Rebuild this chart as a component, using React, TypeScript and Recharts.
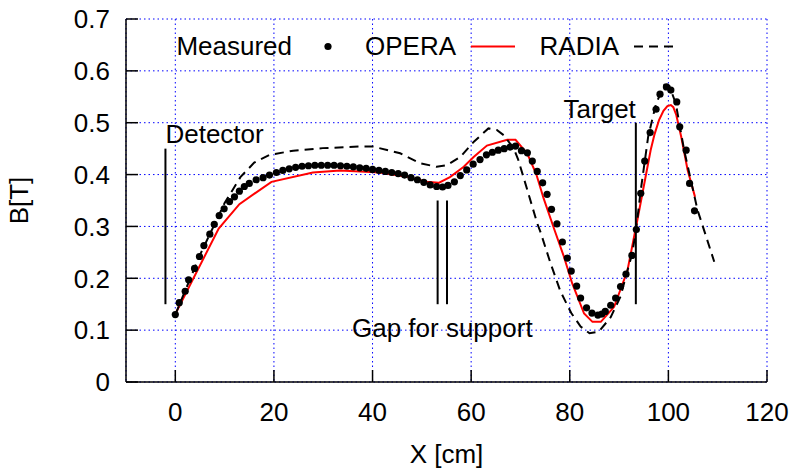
import {
  CartesianGrid,
  ComposedChart,
  Legend,
  Line,
  ReferenceDot,
  ReferenceLine,
  Scatter,
  XAxis,
  YAxis,
} from 'recharts';

const FONT = '"Liberation Sans", Arial, sans-serif';

const xTicks = [0, 20, 40, 60, 80, 100, 120];
const yTicks = [0, 0.1, 0.2, 0.3, 0.4, 0.5, 0.6, 0.7];

// Measured (dots)
const measuredX = [
  0, 0.8, 2.0, 2.7, 3.9, 4.9, 5.8, 7.0, 7.9, 8.9, 9.9, 11.0, 12.0, 13.0, 14.0, 15.0, 16.4, 17.8, 19.1,
  20.5, 21.8, 23.1, 24.4, 25.7, 27.0, 28.3, 29.6, 30.9, 32.2, 33.5, 34.8, 36.1, 37.4, 38.7, 40.0, 41.3,
  42.6, 43.9, 45.2, 46.5, 47.8, 49.1, 50.4, 51.7, 53.0, 54.2, 55.3, 56.6, 57.8, 59.1, 60.4, 61.8, 63.1,
  64.3, 65.5, 66.7, 67.9, 69.0, 70.2, 71.4, 72.4, 73.4, 74.5, 75.4, 76.3, 77.4, 78.5, 79.5, 80.3, 81.4,
  82.2, 83.4, 84.5, 85.7, 86.5, 87.2, 88.3, 89.3, 90.3, 91.4, 92.6, 93.5, 94.4, 95.2, 96.3, 97.5, 98.3,
  99.6, 100.5, 101.7, 102.3, 103.6, 104.3, 105.3,
];
const measuredB = [
  0.13, 0.153, 0.175, 0.197, 0.219, 0.242, 0.263, 0.285, 0.304, 0.321, 0.334, 0.348, 0.357, 0.368, 0.377,
  0.383, 0.39, 0.394, 0.399, 0.404, 0.408, 0.411, 0.414, 0.416, 0.417, 0.418, 0.418, 0.418, 0.418, 0.417,
  0.416, 0.415, 0.413, 0.412, 0.41, 0.408, 0.406, 0.404, 0.402, 0.399, 0.394, 0.39, 0.385, 0.38, 0.377,
  0.376, 0.379, 0.386, 0.398, 0.409, 0.42, 0.429, 0.438, 0.443, 0.447, 0.45, 0.453, 0.455, 0.446, 0.442,
  0.426, 0.406, 0.384, 0.362, 0.333, 0.305, 0.27, 0.239, 0.214, 0.185, 0.162, 0.143, 0.133, 0.129, 0.131,
  0.136, 0.148, 0.162, 0.184, 0.208, 0.244, 0.294, 0.364, 0.426, 0.481, 0.526, 0.555, 0.569, 0.563, 0.54,
  0.492, 0.447, 0.383, 0.33,
];

// OPERA (red solid)
const operaX = [
  0, 8.8, 13, 19.5, 27.9, 33.4, 41.5, 46.9, 51, 53.4, 55.7, 58.5, 60.5, 63.2, 67.3, 69, 71.4, 73.2, 74.7,
  76.8, 78.8, 80.5, 82.9, 84.6, 86.3, 89, 91.7, 93.7, 96.4, 97.2, 98.1, 99, 99.8, 100.5, 101, 101.6, 102.6,
  103.9, 105.4,
];
const operaB = [
  0.131, 0.296, 0.343, 0.386, 0.404, 0.408, 0.404, 0.396, 0.386, 0.384, 0.395, 0.415, 0.434, 0.456, 0.467,
  0.467, 0.44, 0.401, 0.354, 0.296, 0.242, 0.19, 0.132, 0.116, 0.116, 0.145, 0.215, 0.312, 0.447, 0.478,
  0.505, 0.523, 0.532, 0.534, 0.53, 0.515, 0.473, 0.409, 0.357,
];

// RADIA (black dashed)
const radiaX = [
  0, 5, 10, 13.2, 16, 19.1, 23.9, 29.9, 37.4, 40.1, 43.5, 45.6, 49.6, 53, 55.1, 57.8, 60.5, 63.5, 65.2,
  66.6, 68.6, 69.5, 71.4, 73.4, 74.1, 76.1, 78.1, 80.3, 82.2, 84, 85.9, 88.3, 90.3, 91.7, 92.6, 93.4, 94.4,
  95.9, 97.5, 99.2, 100.2, 101.5, 103.2, 105.9, 109.3,
];
const radiaB = [
  0.13, 0.245, 0.345, 0.395, 0.423, 0.438, 0.446, 0.451, 0.454, 0.454, 0.446, 0.441, 0.422, 0.415, 0.418,
  0.434, 0.463, 0.489, 0.486, 0.476, 0.451, 0.43, 0.37, 0.306, 0.288, 0.229, 0.175, 0.133, 0.107, 0.094,
  0.097, 0.125, 0.165, 0.215, 0.245, 0.29, 0.37, 0.473, 0.537, 0.573, 0.571, 0.537, 0.447, 0.332, 0.232,
];

const toPoints = (xs: number[], ys: number[]) => xs.map((x, i) => ({ x, y: ys[i] }));

const measured = toPoints(measuredX, measuredB);
const opera = toPoints(operaX, operaB);
const radia = toPoints(radiaX, radiaB);

const DASH = '9 6';

const KeyBox = () => (
  <svg width={796} height={70} style={{ display: 'block', fontFamily: FONT }}>
    <text x={292} y={55} textAnchor="end" fontSize={26} fill="#000">Measured</text>
    <circle cx={328} cy={46.5} r={3.6} fill="#000" />
    <text x={456} y={55} textAnchor="end" fontSize={26} fill="#000">OPERA</text>
    <line x1={471} x2={515} y1={46.5} y2={46.5} stroke="#ff0000" strokeWidth={2} />
    <text x={619} y={55} textAnchor="end" fontSize={26} fill="#000">RADIA</text>
    <line x1={634} x2={673} y1={46.5} y2={46.5} stroke="#000" strokeWidth={2} strokeDasharray={DASH} />
  </svg>
);

const XTitle = (props: any) => {
  const vb = props.viewBox || { x: 126, y: 382, width: 641, height: 50 };
  return (
    <text x={vb.x + vb.width / 2} y={vb.y + 81} textAnchor="middle" fontSize={26} fill="#000" fontFamily={FONT}>
      X [cm]
    </text>
  );
};

const YTitle = (props: any) => {
  const vb = props.viewBox || { x: 0, y: 19, width: 126, height: 363 };
  const cy = vb.y + vb.height / 2;
  return (
    <text transform={`translate(28, ${cy}) rotate(-90)`} textAnchor="middle" fontSize={26} fill="#000" fontFamily={FONT}>
      B[T]
    </text>
  );
};

const Dot = (p: any) => <circle cx={p.cx} cy={p.cy} r={3.6} fill="#000" />;

const tickStyle = { fontSize: 26, fill: '#000', fontFamily: FONT };
const labelStyle = { fontSize: 26, fill: '#000', fontFamily: FONT };

const App = () => {
  return (
    <div style={{ position: 'absolute', left: 0, top: 0 }}>
      <ComposedChart
        width={796}
        height={472}
        margin={{ top: 19, right: 29, bottom: 40, left: 0 }}
        style={{ fontFamily: FONT }}
      >
        <CartesianGrid stroke="#0000ff" strokeDasharray="1.5 3" strokeWidth={1} />
        <XAxis
          dataKey="x"
          type="number"
          domain={[-10, 120]}
          ticks={xTicks}
          allowDataOverflow
          height={50}
          tickSize={-12}
          tickMargin={33}
          tick={tickStyle}
          stroke="#000"
          strokeWidth={1.5}
          label={<XTitle />}
        />
        <XAxis
          xAxisId="top"
          orientation="top"
          type="number"
          domain={[-10, 120]}
          ticks={xTicks}
          allowDataOverflow
          height={0}
          tickSize={-12}
          tick={false}
          stroke="#000"
          strokeWidth={1.5}
        />
        <YAxis
          dataKey="y"
          type="number"
          domain={[0, 0.7]}
          ticks={yTicks}
          allowDataOverflow
          width={126}
          tickSize={-12}
          tickMargin={28}
          tick={tickStyle}
          stroke="#000"
          strokeWidth={1.5}
          label={<YTitle />}
        />
        <YAxis
          yAxisId="right"
          orientation="right"
          type="number"
          domain={[0, 0.7]}
          ticks={yTicks}
          allowDataOverflow
          width={0}
          tickSize={-12}
          tick={false}
          stroke="#000"
          strokeWidth={1.5}
        />
        <Scatter name="Measured" data={measured} shape={Dot} isAnimationActive={false} />
        <Line
          name="OPERA"
          data={opera}
          dataKey="y"
          type="linear"
          stroke="#ff0000"
          strokeWidth={2}
          dot={false}
          activeDot={false}
          isAnimationActive={false}
        />
        <Line
          name="RADIA"
          data={radia}
          dataKey="y"
          type="linear"
          stroke="#000"
          strokeWidth={2}
          strokeDasharray={DASH}
          dot={false}
          activeDot={false}
          isAnimationActive={false}
        />
        <ReferenceLine segment={[{ x: -2, y: 0.15 }, { x: -2, y: 0.45 }]} stroke="#000" strokeWidth={2} />
        <ReferenceLine segment={[{ x: 53.2, y: 0.15 }, { x: 53.2, y: 0.35 }]} stroke="#000" strokeWidth={2} />
        <ReferenceLine segment={[{ x: 55.1, y: 0.15 }, { x: 55.1, y: 0.35 }]} stroke="#000" strokeWidth={2} />
        <ReferenceLine segment={[{ x: 93.4, y: 0.15 }, { x: 93.4, y: 0.5 }]} stroke="#000" strokeWidth={2} />
        <ReferenceDot x={-2} y={0.478} r={0} fill="none" stroke="none"
          label={{ value: 'Detector', position: 'right', offset: 0, ...labelStyle }} />
        <ReferenceDot x={93.4} y={0.526} r={0} fill="none" stroke="none"
          label={{ value: 'Target', position: 'left', offset: 0, ...labelStyle }} />
        <ReferenceDot x={54.15} y={0.1045} r={0} fill="none" stroke="none"
          label={{ value: 'Gap for support', position: 'center', offset: 0, ...labelStyle }} />
        <Legend
          layout="horizontal"
          verticalAlign="middle"
          align="center"
          wrapperStyle={{ left: 0, top: 0, width: 796, height: 70 }}
          content={() => <KeyBox />}
        />
      </ComposedChart>
    </div>
  );
};

export default App;
